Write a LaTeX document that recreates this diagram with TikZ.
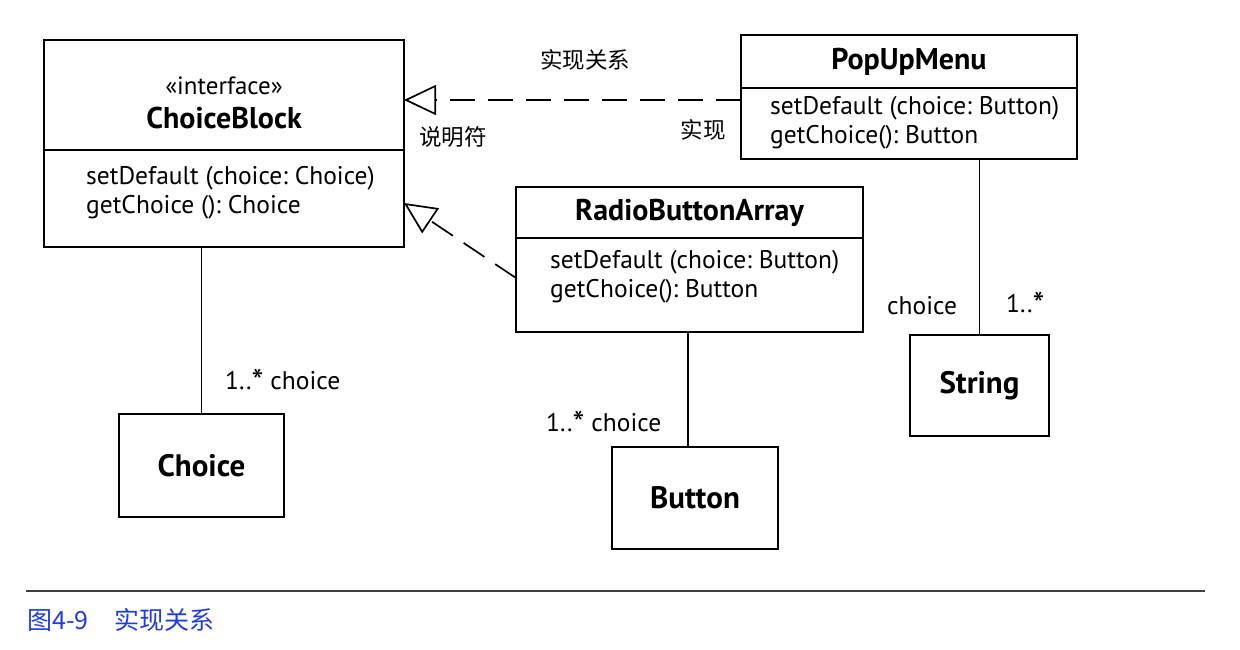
\documentclass[tikz,border=0pt]{standalone}
\usepackage{fontspec}
\setmainfont{PT Sans}
\newfontfamily\cjk{Noto Sans CJK SC}
\usepackage{xcolor}
\usetikzlibrary{positioning, arrows.meta, calc}
\definecolor{capblue}{RGB}{30,60,230}
\newcommand{\mstar}{{\fontsize{34}{34}\selectfont\raisebox{-4pt}{*}}}
\tikzstyle{classhead} = [rectangle, draw=black, line width=1.7pt, inner sep=0pt, outer sep=0pt, align=center, font=\fontsize{30}{31}\selectfont\bfseries]
\tikzstyle{classbody} = [rectangle, draw=black, line width=1.7pt, inner sep=0pt, outer sep=0pt]
\tikzstyle{ops} = [inner sep=0pt, align=left, anchor=base west, font=\fontsize{25.5}{28.5}\selectfont\frenchspacing]
\tikzstyle{leaf} = [rectangle, draw=black, line width=1.7pt, inner sep=0pt, font=\fontsize{31}{32}\selectfont\bfseries]
\tikzstyle{realize} = [line width=1.7pt, dash pattern=on 25pt off 13pt, -{Triangle[open, length=32pt, width=30pt, fill=white]}]
\tikzstyle{assoc} = [line width=1.7pt]
\tikzstyle{lbl} = [font=\fontsize{25.5}{28}\selectfont, inner sep=0pt]
\tikzstyle{cn} = [font=\fontsize{22.5}{24}\selectfont\cjk, inner sep=0pt]

\begin{document}
\begin{tikzpicture}[x=1pt, y=-1pt]
			\useasboundingbox (0,0) rectangle (1240,649);
			% 类
			\node (cbhead) [classhead, minimum width=360pt, minimum height=110pt] at (224,95) {{\mdseries\fontsize{25}{31}\selectfont\rule{0pt}{33pt}«interface»}\\[3pt]ChoiceBlock};
			\node (cbbody) [classbody, below=0pt of cbhead, minimum width=360pt, minimum height=97pt] {};
			\node (cbops) [ops] at ($(cbbody.north west)+(42,63)$) {setDefault (choice: Choice)\\getChoice (): Choice};
			\node (pmhead) [classhead, minimum width=336pt, minimum height=53pt] at (909,61.5) {PopUpMenu};
			\node (pmbody) [classbody, below=0pt of pmhead, minimum width=336pt, minimum height=71pt] {};
			\node (pmops) [ops] at ($(pmbody.north west)+(29,55)$) {setDefault (choice: Button)\\getChoice(): Button};
			\node (rbhead) [classhead, minimum width=347pt, minimum height=51pt] at (689.5,212.5) {RadioButtonArray};
			\node (rbbody) [classbody, below=0pt of rbhead, minimum width=347pt, minimum height=94pt] {};
			\node (rbops) [ops] at ($(rbbody.north west)+(34,59)$) {setDefault (choice: Button)\\getChoice(): Button};
			\node (choice) [leaf, minimum width=165pt, minimum height=103pt] at (201.5,465.5) {Choice};
			\node (button) [leaf, minimum width=166pt, minimum height=102pt] at (695,498) {Button};
			\node (string) [leaf, minimum width=139pt, minimum height=101pt] at (979.5,385.5) {String};
			% 连线
			\draw [realize] (pmbody.west |- 0,100) -- (cbhead.east |- 0,100);
			\draw [realize] (rbbody.west |- 0,278) -- (cbbody.east |- 0,203);
			\draw [assoc] (cbbody.south -| choice.north) -- (choice.north);
			\draw [assoc] (rbbody.south -| 688,0) -- (button.north -| 688,0);
			\draw [assoc] (pmbody.south -| string.north) -- (string.north);
			% 标签
			\node (l1) [lbl, anchor=west] at (225,381) {1..\mstar\ choice};
			\node (l2) [lbl, anchor=west] at (546,423) {1..\mstar\ choice};
			\node (l3) [lbl, anchor=west] at (887,306) {choice};
			\node (l4) [lbl, anchor=west] at (1006,304) {1..\mstar};
			\node (c1) [cn] at (585,60) {实现关系};
			\node (c2) [cn] at (453,137) {说明符};
			\node (c3) [cn] at (703,130) {实现};
			% 图注
			\draw [line width=1.2pt, black!75] (26,591) -- (1205,591);
			\node (cap) [anchor=west, inner sep=0pt, text=capblue, font=\fontsize{25}{28}\selectfont\cjk] at (27,620) {图4-9\hspace{26pt}实现关系};
\end{tikzpicture}
\end{document}
